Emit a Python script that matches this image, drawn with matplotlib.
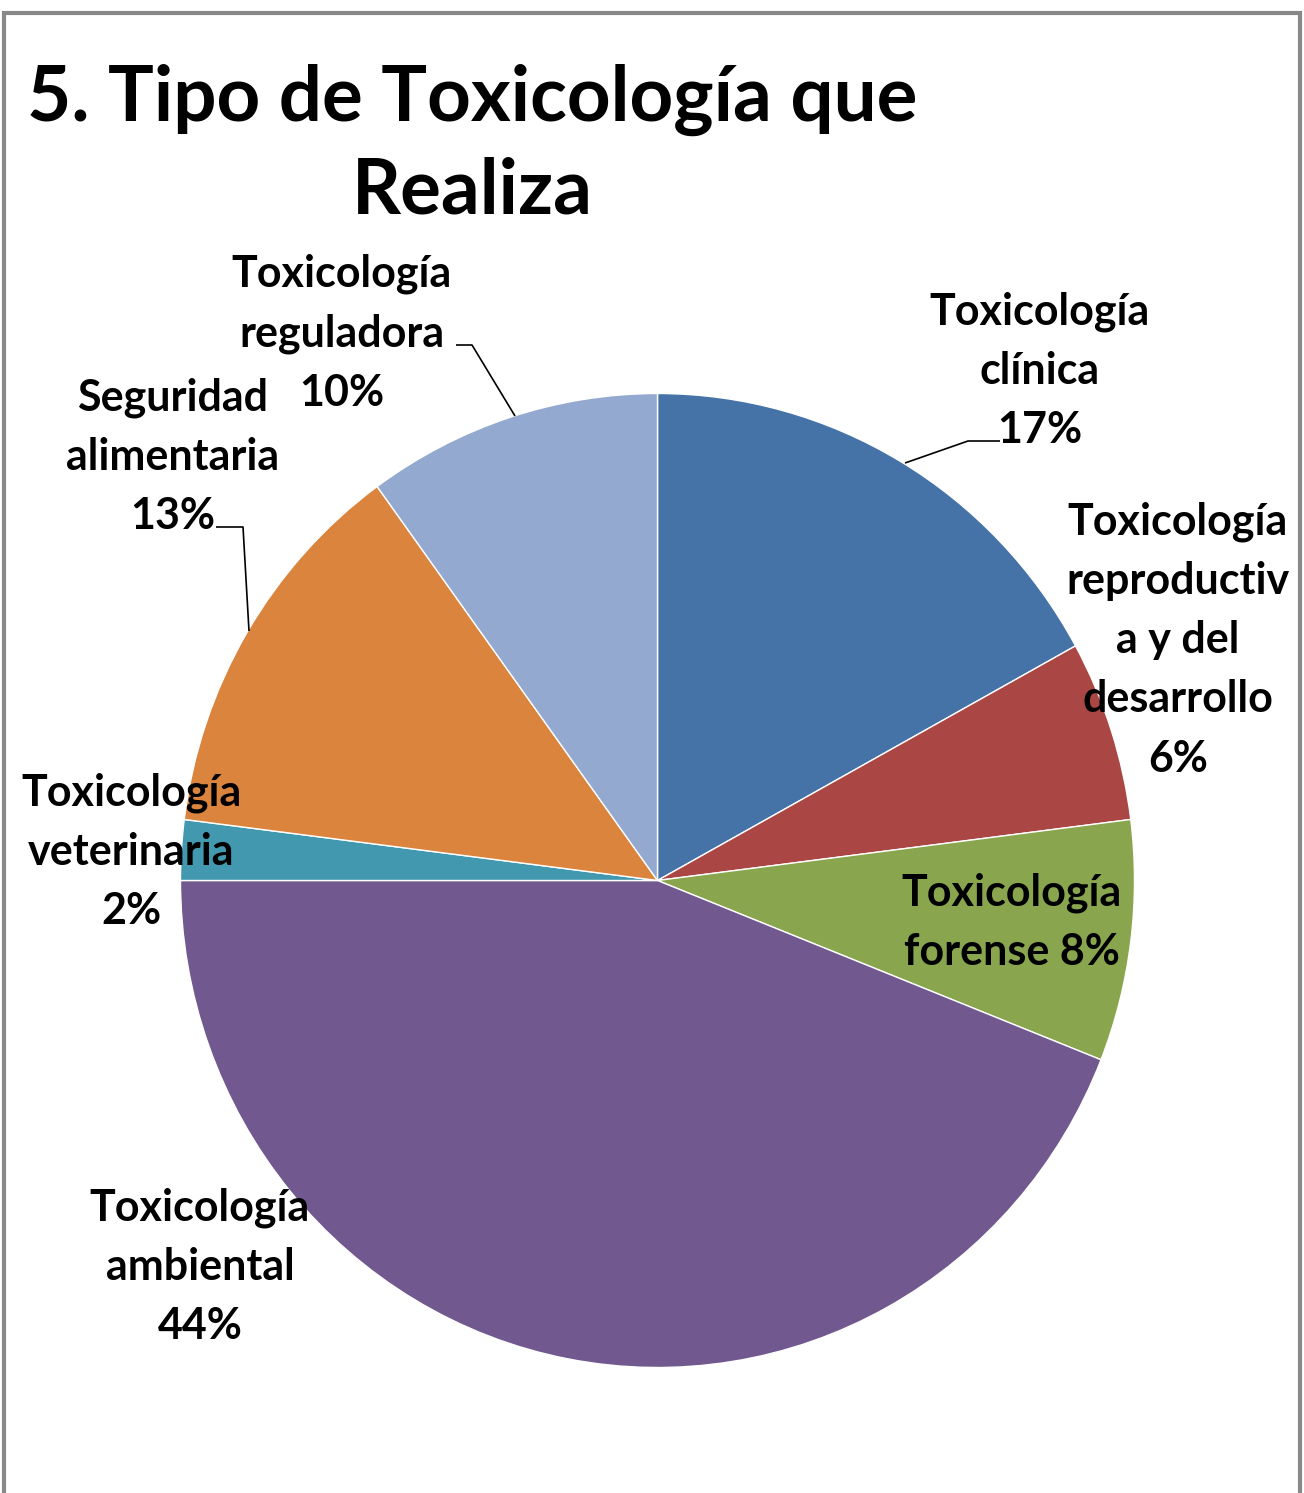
import matplotlib
matplotlib.use("Agg")
import matplotlib.pyplot as plt
from matplotlib.patches import Rectangle

categories = ["Toxicología clínica", "Toxicología reproductiva y del desarrollo",
              "Toxicología forense", "Toxicología ambiental",
              "Toxicología veterinaria", "Seguridad alimentaria",
              "Toxicología reguladora"]
values = [17, 6, 8, 44, 2, 13, 10]
label_texts = ["Toxicología\nclínica\n17%",
               "Toxicología\nreproductiv\na y del\ndesarrollo\n6%",
               "Toxicología\nforense 8%",
               "Toxicología\nambiental\n44%",
               "Toxicología\nveterinaria\n2%",
               "Seguridad\nalimentaria\n13%",
               "Toxicología\nreguladora\n10%"]
colors = ["#4572A7", "#AA4643", "#89A54E", "#71588F", "#4198AF", "#DB843D", "#93A9CF"]
title = "5. Tipo de Toxicología que\nRealiza"

W, H = 1304, 1493
FONT = "Lato"

fig = plt.figure(figsize=(W / 100, H / 100), dpi=100)

# pie axes (slightly taller than wide, like the original)
cx, cy, rx, ry = 657.5, 880.5, 477, 487
pax = fig.add_axes([(cx - rx) / W, (H - cy - ry) / H, 2 * rx / W, 2 * ry / H])
pax.pie(values, colors=colors, startangle=90, counterclock=False,
        radius=1, wedgeprops=dict(linewidth=1, edgecolor="white"))
pax.set_aspect("auto")
pax.set_xlim(-1, 1)
pax.set_ylim(-1, 1)
pax.axis("off")

# overlay axes in pixel coordinates for labels
ax = fig.add_axes([0, 0, 1, 1])
ax.set_xlim(0, W)
ax.set_ylim(0, H)
ax.axis("off")
ax.patch.set_alpha(0)

def Y(y):
    return H - y

label_pos = [(1040, 371), (1178, 640), (1012, 922), (200, 1267),
             (131, 852), (173, 457), (342, 333)]
for txt, (x, y) in zip(label_texts, label_pos):
    ax.text(x, Y(y), txt, ha="center", va="center", multialignment="center",
            fontsize=31, fontweight="bold", family=FONT, color="black",
            linespacing=1.58)

leaders = [
    [(1000, 441), (968, 441), (905, 463)],
    [(456, 345), (472, 345), (515, 416)],
    [(216, 527), (243, 527), (249, 631)],
]
for pts in leaders:
    ax.plot([p[0] for p in pts], [Y(p[1]) for p in pts],
            color="black", lw=1.2, solid_capstyle="butt")

ax.text(472, Y(145), title, ha="center", va="center", multialignment="center",
        fontsize=55, fontweight="bold", family=FONT, color="black",
        linespacing=1.37)

fig.patches.append(Rectangle((4 / W, -0.01), (1300 - 4) / W, (H - 13) / H + 0.01,
                             transform=fig.transFigure, fill=False,
                             edgecolor="#888888", linewidth=3))

fig.savefig("out.png", dpi=100)
